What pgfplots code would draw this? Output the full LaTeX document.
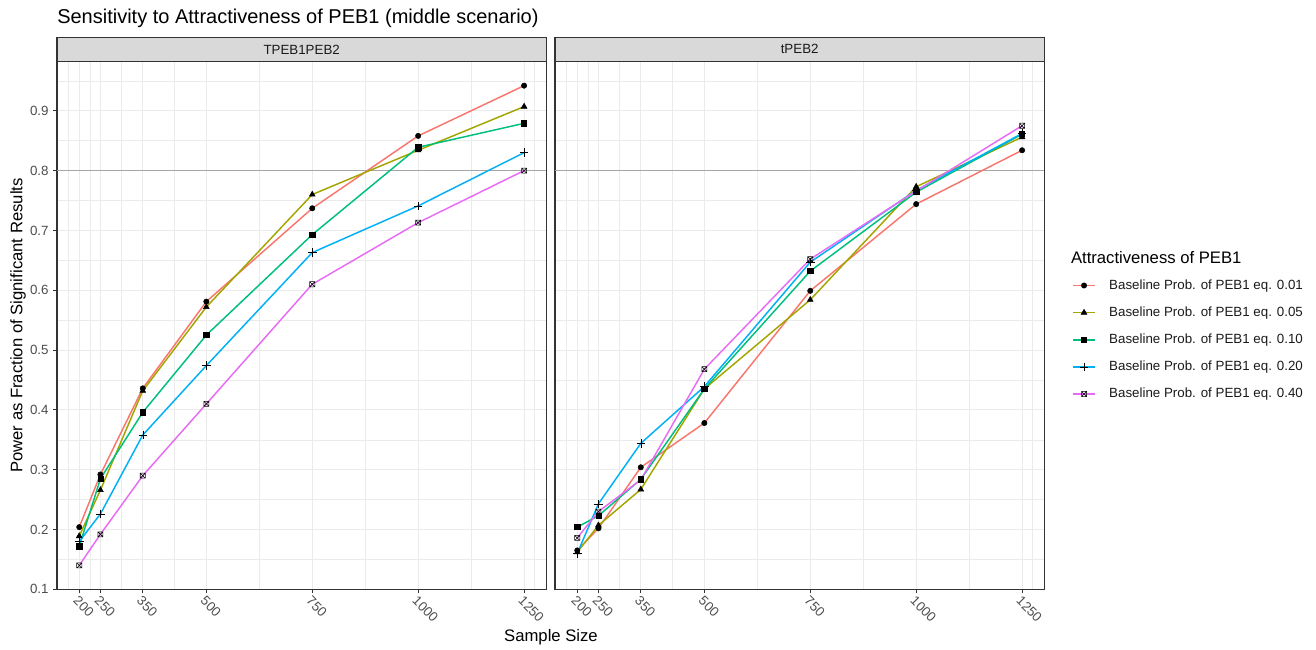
\documentclass[border=0pt]{standalone}
\usepackage{pgfplots}
\pgfplotsset{compat=1.18}
\usepackage{fontspec}
\setmainfont{Liberation Sans}
\definecolor{c1}{HTML}{F8766D}
\definecolor{c2}{HTML}{A3A500}
\definecolor{c3}{HTML}{00BF7D}
\definecolor{c4}{HTML}{00B0F6}
\definecolor{c5}{HTML}{E76BF3}
\definecolor{g10}{HTML}{1A1A1A}
\definecolor{g20}{HTML}{333333}
\definecolor{g30}{HTML}{4D4D4D}
\definecolor{g85}{HTML}{D9D9D9}
\definecolor{g92}{HTML}{EBEBEB}
\definecolor{hl}{HTML}{A6A6A6}

\pgfdeclareplotmark{boxx}{%
  \pgfpathrectangle{\pgfpoint{-\pgfplotmarksize}{-\pgfplotmarksize}}{\pgfpoint{2\pgfplotmarksize}{2\pgfplotmarksize}}%
  \pgfpathmoveto{\pgfpoint{-\pgfplotmarksize}{-\pgfplotmarksize}}%
  \pgfpathlineto{\pgfpoint{\pgfplotmarksize}{\pgfplotmarksize}}%
  \pgfpathmoveto{\pgfpoint{-\pgfplotmarksize}{\pgfplotmarksize}}%
  \pgfpathlineto{\pgfpoint{\pgfplotmarksize}{-\pgfplotmarksize}}%
  \pgfusepathqstroke}

\pgfplotstableread{
n    a     b     c     d     e
200  0.204 0.189 0.172 0.180 0.140
250  0.292 0.266 0.285 0.226 0.192
350  0.436 0.432 0.396 0.358 0.290
500  0.581 0.572 0.525 0.474 0.410
750  0.737 0.760 0.693 0.663 0.610
1000 0.858 0.834 0.839 0.741 0.713
1250 0.942 0.907 0.879 0.830 0.800
}\left

\pgfplotstableread{
n    a     b     c     d     e
200  0.165 0.162 0.204 0.160 0.186
250  0.202 0.207 0.223 0.243 0.230
350  0.304 0.267 0.284 0.344 0.283
500  0.378 0.435 0.435 0.439 0.468
750  0.599 0.584 0.632 0.647 0.652
1000 0.744 0.773 0.764 0.767 0.766
1250 0.834 0.856 0.861 0.862 0.875
}\right

\pgfplotsset{
  panel/.style={
    scale only axis, width=367pt, height=395.7pt,
    xmin=147.5, xmax=1302.5, ymin=0.1, ymax=0.982,
    xtick={200,250,350,500,750,1000,1250},
    xticklabels={200,250,350,500,750,1000,1250},
    minor xtick={175,225,300,425,625,875,1125,1275},
    ytick={0.1,0.2,0.3,0.4,0.5,0.6,0.7,0.8,0.9},
    yticklabels={0.1,0.2,0.3,0.4,0.5,0.6,0.7,0.8,0.9},
    minor ytick={0.15,0.25,0.35,0.45,0.55,0.65,0.75,0.85,0.95},
    grid=both,
    major grid style={g92, line width=0.8pt},
    minor grid style={g92, line width=0.4pt},
    minor tick length=0pt,
    major tick length=2.75pt,
    tick align=outside,
    xtick pos=left, ytick pos=left,
    tick style={g20, line width=0.75pt},
    axis line style={g20, line width=0.8pt},
    xticklabel style={font=\fontsize{10}{12}\selectfont, text=g30, rotate=-45, anchor=north west, inner sep=1pt},
    yticklabel style={font=\fontsize{10}{12}\selectfont, text=g30},
    every axis plot/.append style={line width=1.1pt, mark options={draw=black, fill=black, solid, line width=0.4pt}},
    legend image code/.code={%
      \draw[##1, line width=1.2pt] (0pt,0pt) -- (16.5pt,0pt);
      \draw[mark repeat=2,mark phase=2,##1, draw=none] plot coordinates {(0pt,0pt) (8.25pt,0pt) (16.5pt,0pt)};},
  },
  s1/.style={color=c1, mark=*, mark size=2pt},
  s2/.style={color=c2, mark=triangle*, mark size=2.5pt},
  s3/.style={color=c3, mark=square*, mark size=1.95pt},
  s4/.style={color=c4, mark=+, mark size=3.2pt},
  s5/.style={color=c5, mark=boxx, mark size=1.9pt},
}

\begin{document}
\begin{tikzpicture}
\path[use as bounding box] (-42.75pt,-44.8pt) rectangle (944.25pt,442pt);

\begin{axis}[panel]
\draw[hl, line width=0.9pt] (axis cs:147.5,0.8) -- (axis cs:1302.5,0.8);
\addplot[s1] table[x=n,y=a] {\left};
\addplot[s2] table[x=n,y=b] {\left};
\addplot[s3] table[x=n,y=c] {\left};
\addplot[s4] table[x=n,y=d] {\left};
\addplot[s5] table[x=n,y=e] {\left};
\end{axis}

\begin{axis}[panel, at={(373.5pt,0pt)}, yticklabels={}, ytick style={draw=none},
  legend style={at={(1.0565,0.5925)}, anchor=north west, draw=none, fill=none, inner sep=0pt,
    row sep=7.6pt, font=\fontsize{10}{12}\selectfont, text=g10,
    /tikz/every odd column/.append style={column sep=8pt}},
  legend cell align=left]
\draw[hl, line width=0.9pt] (axis cs:147.5,0.8) -- (axis cs:1302.5,0.8);
\addplot[s1] table[x=n,y=a] {\right};
\addlegendentry{Baseline Prob. of PEB1 eq. 0.01}
\addplot[s2] table[x=n,y=b] {\right};
\addlegendentry{Baseline Prob. of PEB1 eq. 0.05}
\addplot[s3] table[x=n,y=c] {\right};
\addlegendentry{Baseline Prob. of PEB1 eq. 0.10}
\addplot[s4] table[x=n,y=d] {\right};
\addlegendentry{Baseline Prob. of PEB1 eq. 0.20}
\addplot[s5] table[x=n,y=e] {\right};
\addlegendentry{Baseline Prob. of PEB1 eq. 0.40}
\end{axis}

% strips
\draw[g20, fill=g85, line width=0.8pt] (0pt,395.7pt) rectangle (367pt,414.2pt);
\node[g10, font=\fontsize{10}{12}\selectfont] at (183.5pt,404.95pt) {TPEB1PEB2};
\draw[g20, fill=g85, line width=0.8pt] (373.5pt,395.7pt) rectangle (740.5pt,414.2pt);
\node[g10, font=\fontsize{10}{12}\selectfont] at (557pt,404.95pt) {tPEB2};

% titles
\node[anchor=base west, inner sep=0pt, font=\fontsize{15}{18}\selectfont] at (0pt,424pt) {Sensitivity to Attractiveness of PEB1 (middle scenario)};
\node[rotate=90, inner sep=0pt, font=\fontsize{12.5}{15}\selectfont] at (-29.25pt,197.85pt) {Power as Fraction of Significant Results};
\node[anchor=base, inner sep=0pt, font=\fontsize{12.5}{15}\selectfont] at (370.5pt,-38.8pt) {Sample Size};
\node[anchor=base west, inner sep=0pt, font=\fontsize{12.5}{15}\selectfont] at (760.3pt,244.5pt) {Attractiveness of PEB1};
\end{tikzpicture}
\end{document}
